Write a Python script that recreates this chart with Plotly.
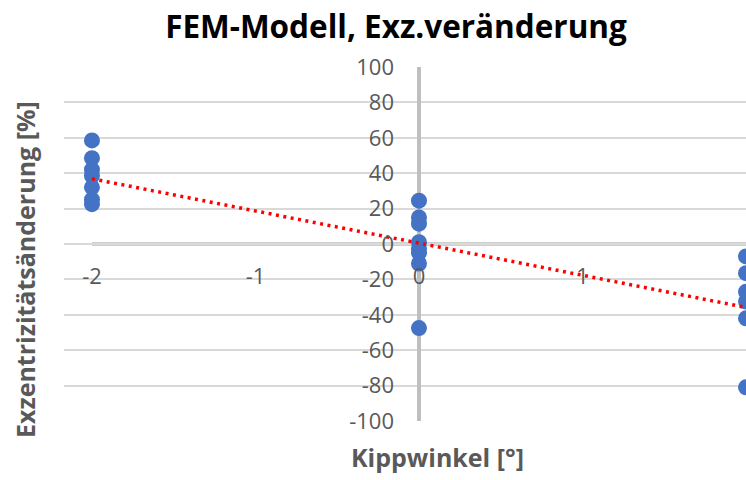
import numpy as np
import plotly.graph_objects as go

# Measurements: tilt angle [°] and eccentricity change [%]
kippwinkel_m2 = [-2, -2, -2, -2, -2, -2, -2]
exz_m2 = [58.5, 48.5, 42, 38.5, 32, 25, 22.5]

kippwinkel_0 = [0, 0, 0, 0, 0, 0, 0, 0]
exz_0 = [24.5, 15, 11.5, 1, -2.5, -5, -11, -47.5]

kippwinkel_p2 = [2, 2, 2, 2, 2, 2]
exz_p2 = [-7, -16.5, -27, -32.5, -42, -81]

x_ticks = [-2, -1, 0, 1, 2]
x_ticktext = ["-2", "-1", "0", "1", "2"]
y_ticks = list(range(-100, 101, 20))
y_ticktext = [str(v) for v in y_ticks]

x_range = [-2.171, 2.0]
y_range = [-100, 100]

x_all = np.array(kippwinkel_m2 + kippwinkel_0 + kippwinkel_p2, dtype=float)
y_all = np.array(exz_m2 + exz_0 + exz_p2, dtype=float)

# Linear trendline (least squares)
slope, intercept = np.polyfit(x_all, y_all, 1)
trend_x = np.array([-2.0, 2.0])
trend_y = slope * trend_x + intercept

FONT = "Open Sans"
GRAY = "#595959"

W, H = 746, 480
ML, MR, MT, MB = 64, 0, 67, 59
plot_w = W - ML - MR
plot_h = H - MT - MB
x0_frac = (0 - x_range[0]) / (x_range[1] - x_range[0])

fig = go.Figure()

fig.add_trace(go.Scatter(
    x=x_all, y=y_all, mode="markers",
    marker=dict(color="#4472c4", size=16, line=dict(width=0)),
    showlegend=False, hoverinfo="x+y",
))

fig.add_trace(go.Scatter(
    x=trend_x, y=trend_y, mode="lines",
    line=dict(color="#ff0000", width=3.5, dash="3px,4.5px"),
    showlegend=False, hoverinfo="skip",
))

# Horizontal axis line at y = 0, spanning the data extent
fig.add_shape(type="line", xref="x", yref="y",
              x0=-2, x1=x_range[1], y0=0, y1=0,
              line=dict(color="#bfbfbf", width=3.5), layer="below")

fig.update_layout(
    width=W, height=H,
    margin=dict(l=ML, r=MR, t=MT, b=MB, pad=0),
    paper_bgcolor="white", plot_bgcolor="white",
    font=dict(family=FONT, color=GRAY),
    title=dict(text="<b>FEM-Modell, Exz.veränderung</b>",
               font=dict(family=FONT, size=31.5, color="black", weight="bold"),
               x=396 / W, xref="container", xanchor="center",
               y=1 - 27 / H, yref="container", yanchor="middle"),
    xaxis=dict(range=x_range, tickvals=x_ticks, ticktext=x_ticktext,
               showgrid=False,
               zeroline=True, zerolinecolor="#bfbfbf", zerolinewidth=3.5,
               showline=False, ticks="", anchor="free", position=0.5,
               tickfont=dict(family=FONT, size=22, color=GRAY),
               ticklabelstandoff=17),
    yaxis=dict(range=y_range, tickvals=y_ticks, ticktext=y_ticktext,
               showgrid=True,
               gridcolor="#d9d9d9", gridwidth=2, zeroline=False,
               showline=False, ticks="", anchor="free", position=x0_frac,
               tickfont=dict(family=FONT, size=22, color=GRAY),
               ticklabelstandoff=25),
    annotations=[
        dict(text="<b>Exzentrizitätsänderung [%]</b>", textangle=-90,
             xref="paper", yref="paper",
             x=(25 - ML) / plot_w, y=(H - MB - 270) / plot_h,
             xanchor="center", yanchor="middle", showarrow=False,
             font=dict(family=FONT, size=25, color=GRAY, weight="bold")),
        dict(text="<b>Kippwinkel [°]</b>",
             xref="paper", yref="paper",
             x=(437 - ML) / plot_w, y=(H - MB - 457) / plot_h,
             xanchor="center", yanchor="middle", showarrow=False,
             font=dict(family=FONT, size=25, color=GRAY, weight="bold")),
    ],
)

fig.write_html("out.html")
